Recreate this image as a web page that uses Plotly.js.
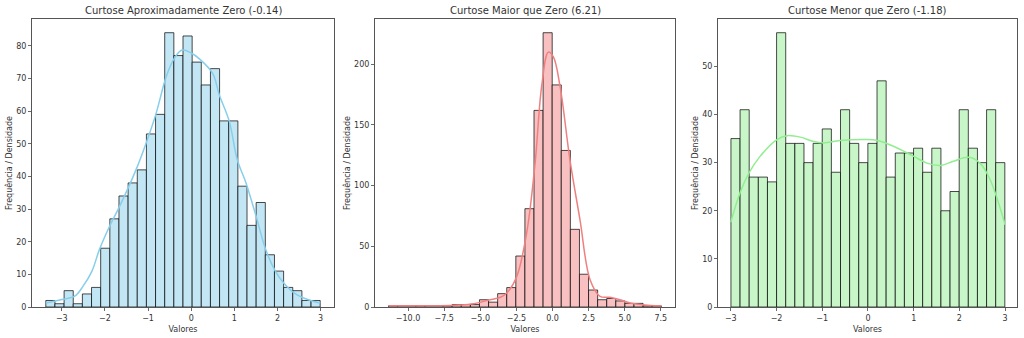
<!DOCTYPE html>
<html>
<head>
<meta charset="utf-8">
<script src="https://cdn.plot.ly/plotly-3.0.1.min.js"></script>
<style>html,body{margin:0;padding:0;background:#fff;}#chart{width:1024px;height:338px;}</style>
</head>
<body>
<div id="chart"></div>
<script>
// ---- Data ----
const titles = ["Curtose Aproximadamente Zero (-0.14)", "Curtose Maior que Zero (6.21)", "Curtose Menor que Zero (-1.18)"];
const xLabel = "Valores";
const yLabel = "Frequência / Densidade";

// Panel 1: approx. normal
const bins1Start = -3.37, bins1Width = 0.212;
const counts1 = [2,1,5,1,4,6,18,27,34,38,42,53,59,84,77,83,75,68,73,57,57,37,25,32,16,11,6,5,2,2];
const kde1X = [-3.37,-3.0,-2.7,-2.51,-2.3,-2.13,-1.9,-1.66,-1.28,-1.05,-0.82,-0.58,-0.4,-0.21,0.0,0.19,0.5,0.65,0.88,1.07,1.27,1.5,1.73,1.95,2.15,2.4,2.7,2.99];
const kde1Y = [1.2,2.3,3.3,6.3,11,17.5,24.5,30.8,42,50,59,70.5,76,78.7,77.8,76,71.5,65,57,45,38,28,17.5,11,7.3,4.2,2.3,1.2];

// Panel 2: heavy tails
const bins2Start = -11.35, bins2Width = 0.6293;
const counts2 = [1,0,0,1,0,0,1,2,2,2,6,4,11,16,42,81,162,226,183,129,64,27,14,6,7,5,3,3,1,1];
const kde2X = [-11.35,-9.5,-7.79,-6.5,-5.48,-4.33,-3.6,-3.17,-2.48,-1.79,-1.21,-0.75,-0.29,0.06,0.52,1.21,1.9,2.6,3.29,3.98,4.67,5.37,6.06,6.8,7.54];
const kde2Y = [1.1,1.0,1.0,1.6,2.7,6,8,11.5,25,61,118,182,210,206,182,121,72,22.5,8.8,8,6,3.3,2,1.3,1];

// Panel 3: flat (platykurtic)
const bins3Start = -2.997, bins3Width = 0.1997;
const counts3 = [35,41,27,27,26,57,34,34,30,34,37,28,41,34,30,34,47,27,32,32,33,28,33,20,24,41,33,30,41,30];
const kde3X = [-3.0,-2.8,-2.6,-2.36,-1.99,-1.77,-1.48,-1.19,-0.97,-0.61,-0.02,0.2,0.56,1.0,1.29,1.58,1.87,2.2,2.45,2.67,3.0];
const kde3Y = [17.6,23.7,27.9,31.3,34.8,35.6,35.3,34.4,34.1,34.6,34.8,34.6,33.4,31.3,29.9,29.4,30.3,31.1,29.9,26.5,17.1];

// ---- Styling ----
const fills = ["rgb(195,230,245)", "rgb(248,192,192)", "rgb(200,246,200)"];
const lines = ["#87CEEB", "#F08080", "#90EE90"];
const font = "DejaVu Sans, sans-serif";

function centers(start, w, n){ const c=[]; for(let i=0;i<n;i++) c.push(start + w*(i+0.5)); return c; }

const panels = [
  {start:bins1Start, w:bins1Width, counts:counts1, kx:kde1X, ky:kde1Y},
  {start:bins2Start, w:bins2Width, counts:counts2, kx:kde2X, ky:kde2Y},
  {start:bins3Start, w:bins3Width, counts:counts3, kx:kde3X, ky:kde3Y}
];

const traces = [];
panels.forEach((p, i) => {
  const ax = i === 0 ? "" : String(i+1);
  traces.push({
    type: "bar", x: centers(p.start, p.w, p.counts.length), y: p.counts,
    width: p.w, xaxis: "x"+ax, yaxis: "y"+ax,
    marker: {color: fills[i], line: {color: "rgba(0,0,0,0.7)", width: 1}},
    hoverinfo: "skip", showlegend: false
  });
  traces.push({
    type: "scatter", mode: "lines", x: p.kx, y: p.ky,
    xaxis: "x"+ax, yaxis: "y"+ax,
    line: {color: lines[i], width: 1.5, shape: "spline", smoothing: 1},
    hoverinfo: "skip", showlegend: false
  });
});

const W = 1024, H = 338;
const xDom = [[32,334],[375,675],[718,1017]];
const yTop = 19, yBot = 307;
const xRanges = [[-3.69,3.31],[-12.29,8.48],[-3.28,3.26]];
const yRanges = [[0,88.2],[0,237.3],[0,59.85]];
const xTicks = [[-3,-2,-1,0,1,2,3],[-10,-7.5,-5,-2.5,0,2.5,5,7.5],[-3,-2,-1,0,1,2,3]];
const yTicks = [[0,10,20,30,40,50,60,70,80],[0,50,100,150,200],[0,10,20,30,40,50]];

const layout = {
  width: W, height: H,
  margin: {l:0, r:0, t:0, b:0},
  paper_bgcolor: "#fff", plot_bgcolor: "#fff",
  bargap: 0,
  font: {family: font, size: 8, color: "#333"},
  annotations: []
};

for (let i=0;i<3;i++){
  const ax = i === 0 ? "" : String(i+1);
  layout["xaxis"+ax] = {
    domain: [xDom[i][0]/W, xDom[i][1]/W],
    anchor: "y"+ax, range: xRanges[i],
    tickmode: "array", tickvals: xTicks[i],
    tickformat: i === 1 ? ".1f" : "d",
    ticks: "outside", ticklen: 3, tickwidth: 0.8, tickcolor: "#444",
    showline: true, mirror: true, linecolor: "#555", linewidth: 1,
    showgrid: false, zeroline: false,
    tickfont: {family: font, size: 8, color: "#333"},
    title: {text: xLabel, font: {family: font, size: 8, color: "#333"}, standoff: 4}
  };
  layout["yaxis"+ax] = {
    domain: [1 - yBot/H, 1 - yTop/H],
    anchor: "x"+ax, range: yRanges[i],
    tickmode: "array", tickvals: yTicks[i],
    ticks: "outside", ticklen: 3, tickwidth: 0.8, tickcolor: "#444",
    showline: true, mirror: true, linecolor: "#555", linewidth: 1,
    showgrid: false, zeroline: false,
    tickfont: {family: font, size: 8, color: "#333"},
    title: {text: yLabel, font: {family: font, size: 8, color: "#333"}, standoff: 2}
  };
  layout.annotations.push({
    text: titles[i], xref: "paper", yref: "paper",
    x: (xDom[i][0]+xDom[i][1])/2/W, y: 1 - 10/H,
    xanchor: "center", yanchor: "middle", showarrow: false,
    font: {family: font, size: 10, color: "#333"}
  });
}

Plotly.newPlot("chart", traces, layout, {displayModeBar: false, staticPlot: true});
</script>
</body>
</html>
